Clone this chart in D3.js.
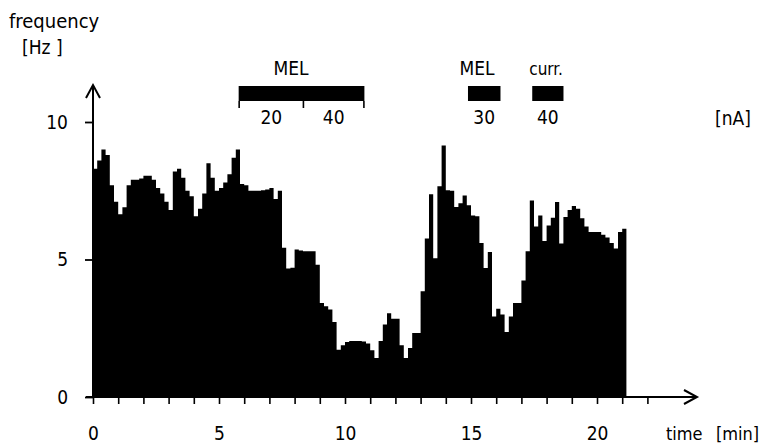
<!DOCTYPE html>
<html>
<head>
<meta charset="utf-8">
<script src="https://cdn.jsdelivr.net/npm/d3@7"></script>
<style>
  body { margin: 0; background: #fff; }
  svg text { font-family: "DejaVu Sans Condensed", "DejaVu Sans", sans-serif; fill: #000; }
</style>
</head>
<body>
<div id="chart"></div>
<script>
// firing rate histogram, 10 s bins
const binMin = 1 / 6;
const freq = [
  8.3, 8.6, 9.0, 8.8, 7.7, 7.1, 6.65, 6.9, 7.7, 7.9,
  7.9, 7.95, 8.05, 8.05, 7.9, 7.6, 7.4, 7.1, 6.8, 8.2,
  8.3, 7.97, 7.5, 7.3, 6.57, 6.85, 7.4, 8.5, 7.97, 7.5,
  7.6, 7.8, 8.1, 8.7, 9.0, 7.75, 7.7, 7.5, 7.5, 7.5,
  7.52, 7.55, 7.6, 7.2, 7.5, 5.43, 4.67, 4.7, 5.36, 5.33,
  5.3, 5.3, 5.3, 4.81, 3.42, 3.3, 3.18, 2.73, 1.72, 1.88,
  2.0, 2.04, 2.04, 2.04, 2.02, 1.95, 1.7, 1.42, 2.04, 2.64,
  3.05, 2.85, 2.85, 1.88, 1.42, 1.78, 2.33, 2.33, 3.85, 5.76,
  7.37, 5.05, 7.66, 9.15, 7.52, 7.5, 6.91, 7.05, 7.33, 6.97,
  6.6, 6.57, 5.6, 4.69, 5.27, 2.93, 3.21, 3.0, 2.36, 2.93,
  3.42, 3.42, 4.24, 5.3, 7.15, 6.2, 6.6, 5.67, 6.24, 6.52,
  7.09, 5.58, 6.55, 6.8, 6.95, 6.85, 6.5, 6.2, 6.0, 6.0,
  6.0, 5.9, 5.8, 5.6, 5.4, 6.0, 6.12
];

// stimulus bars (min) and currents (nA)
const pulseStart = [5.8, 8.35, 14.9, 17.45];
const pulseEnd = [8.35, 10.75, 16.15, 18.65];
const pulseCurrent = ["20", "40", "30", "40"];
const groupLabel = ["MEL", "MEL", "curr."];
const groupAt = [7.86, 15.24, 17.98];
const dividerTicks = [5.8, 8.35, 10.75];

const xTicks = d3.range(0, 23);
const xLabels = [0, 5, 10, 15, 20];
const yTicks = [0, 5, 10];

const width = 759, height = 445;

const x = d3.scaleLinear().domain([0, 20]).range([93, 597]);
const y = d3.scaleLinear().domain([0, 10]).range([397, 122]);

const svg = d3.select("#chart").append("svg")
  .attr("width", width)
  .attr("height", height);

// histogram as one stepped area so no seams show between bins
const steps = freq.concat([freq[freq.length - 1]]);
const area = d3.area()
  .x((d, i) => x(i * binMin))
  .y0(y(0))
  .y1(d => y(d))
  .curve(d3.curveStepAfter);

svg.append("path")
  .datum(steps)
  .attr("d", area)
  .attr("fill", "#000");

// x axis
const xAxis = d3.axisBottom(x)
  .tickValues(xTicks)
  .tickSizeInner(7)
  .tickSizeOuter(0)
  .tickPadding(23)
  .tickFormat(d => xLabels.includes(d) ? d : "");

const gx = svg.append("g")
  .attr("transform", `translate(0,${y(0)})`)
  .call(xAxis);
gx.select(".domain").remove();
gx.selectAll(".tick line").attr("stroke-width", 1.6);
gx.selectAll(".tick text").attr("font-size", 19);

// y axis
const yAxis = d3.axisLeft(y)
  .tickValues(yTicks)
  .tickSizeInner(8)
  .tickSizeOuter(0)
  .tickPadding(17);

const gy = svg.append("g")
  .attr("transform", `translate(${x(0)},0)`)
  .call(yAxis);
gy.select(".domain").remove();
gy.selectAll(".tick line").attr("stroke-width", 1.8);
gy.selectAll(".tick text").attr("font-size", 19);

// axis lines with open arrow heads
const xEnd = 697, yTop = 85;
svg.append("path")
  .attr("d", `M86,${y(0)}H${xEnd}M${xEnd - 13},${y(0) - 7}L${xEnd},${y(0)}L${xEnd - 13},${y(0) + 7}`)
  .attr("stroke", "#000").attr("stroke-width", 2).attr("fill", "none");
svg.append("path")
  .attr("d", `M${x(0)},${y(0)}V${yTop}M${x(0) - 7},${yTop + 13}L${x(0)},${yTop}L${x(0) + 7},${yTop + 13}`)
  .attr("stroke", "#000").attr("stroke-width", 2).attr("fill", "none");

// axis titles
svg.append("text").attr("x", 9).attr("y", 28).attr("font-size", 20).text("frequency");
svg.append("text").attr("x", 22).attr("y", 54).attr("font-size", 19).text("[Hz ]");
svg.append("text").attr("x", 666).attr("y", 440).attr("font-size", 18).text("time");
svg.append("text").attr("x", 716).attr("y", 440).attr("font-size", 18).text("[min]");
svg.append("text").attr("x", 715).attr("y", 125).attr("font-size", 19).text("[nA]");

// stimulus bars
const barTop = 86, barBottom = 101;
svg.append("g")
  .selectAll("rect")
  .data(pulseStart)
  .enter()
  .append("rect")
  .attr("x", d => x(d) - 0.5)
  .attr("y", barTop)
  .attr("width", (d, i) => x(pulseEnd[i]) - x(d) + 1)
  .attr("height", barBottom - barTop)
  .attr("fill", "#000");

svg.append("g")
  .selectAll("line")
  .data(dividerTicks)
  .enter()
  .append("line")
  .attr("x1", d => x(d)).attr("x2", d => x(d))
  .attr("y1", barBottom).attr("y2", barBottom + 7)
  .attr("stroke", "#000").attr("stroke-width", 1.6);

svg.append("g")
  .selectAll("text")
  .data(pulseCurrent)
  .enter()
  .append("text")
  .attr("x", (d, i) => x((pulseStart[i] + pulseEnd[i]) / 2))
  .attr("y", 124)
  .attr("text-anchor", "middle")
  .attr("font-size", 19)
  .text(d => d);

svg.append("g")
  .selectAll("text")
  .data(groupLabel)
  .enter()
  .append("text")
  .attr("x", (d, i) => x(groupAt[i]))
  .attr("y", 75)
  .attr("text-anchor", "middle")
  .attr("font-size", (d, i) => i === 2 ? 17 : 19)
  .text(d => d);
</script>
</body>
</html>
